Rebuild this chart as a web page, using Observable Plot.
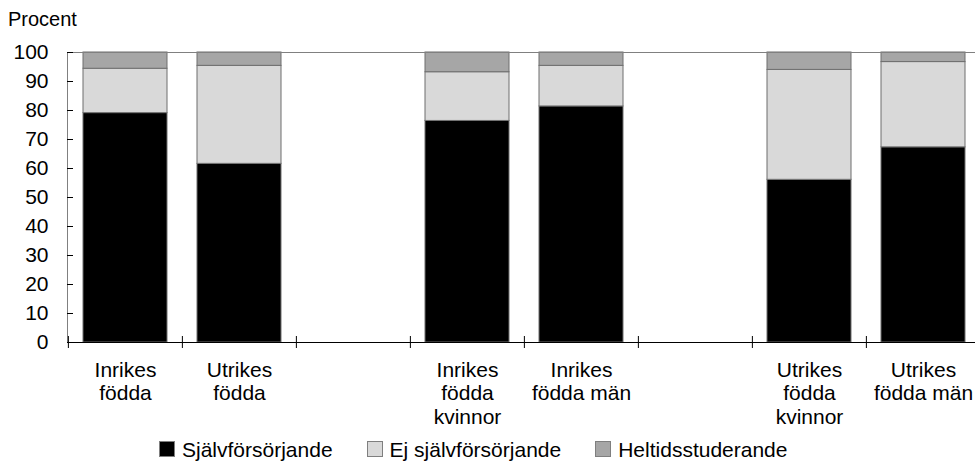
<!DOCTYPE html>
<html>
<head>
<meta charset="utf-8">
<script src="https://cdn.jsdelivr.net/npm/d3@7"></script>
<script src="https://cdn.jsdelivr.net/npm/@observablehq/plot@0.6"></script>
<style>
  html, body { margin: 0; padding: 0; background: #fff; }
  body { font-family: "Liberation Sans", Arial, sans-serif; color: #000; width: 975px; height: 464px; overflow: hidden; }
  #title { font-size: 20px; line-height: 30px; padding: 4px 0 0 8px; height: 30px; }
  #chart svg { display: block; }
  #legend { display: flex; padding: 4px 0 0 159px; font-size: 21px; line-height: 24px; }
  .item { display: flex; align-items: flex-start; margin-right: 34px; }
  .sw { width: 16px; height: 16px; box-sizing: border-box; border: 1px solid #7f7f7f; margin: 3px 7px 0 0; }
</style>
</head>
<body>
<div id="title">Procent</div>
<div id="chart"></div>
<div id="legend"></div>
<script>
// Categories (with two empty slots)
const categories = [
  "Inrikes\nfödda",
  "Utrikes\nfödda",
  " ",
  "Inrikes\nfödda\nkvinnor",
  "Inrikes\nfödda män",
  "  ",
  "Utrikes\nfödda\nkvinnor",
  "Utrikes\nfödda män"
];
const barCategories = [
  "Inrikes\nfödda",
  "Utrikes\nfödda",
  "Inrikes\nfödda\nkvinnor",
  "Inrikes\nfödda män",
  "Utrikes\nfödda\nkvinnor",
  "Utrikes\nfödda män"
];
const series = ["Självförsörjande", "Ej självförsörjande", "Heltidsstuderande"];
const sjalvforsorjande   = [79.1, 61.6, 76.4, 81.4, 56.1, 67.3];
const ejSjalvforsorjande = [15.3, 33.8, 16.8, 14.0, 37.9, 29.4];
const heltidsstuderande  = [5.6, 4.6, 6.8, 4.6, 6.0, 3.3];
const colors = ["#000000", "#d9d9d9", "#a6a6a6"];
const yTicks = [0, 10, 20, 30, 40, 50, 60, 70, 80, 90, 100];

const seriesValues = [sjalvforsorjande, ejSjalvforsorjande, heltidsstuderande];
const data = [];
barCategories.forEach((c, i) => {
  series.forEach((s, j) => data.push({category: c, series: s, value: seriesValues[j][i]}));
});

const xRange = [67, 981];
const halfStep = (xRange[1] - xRange[0]) / categories.length / 2;

const chart = Plot.plot({
  width: 975,
  height: 400,
  marginTop: 18,
  marginBottom: 92,
  marginLeft: 67,
  marginRight: 0,
  style: {fontFamily: "'Liberation Sans', Arial, sans-serif", fontSize: "21px", color: "#000", background: "#fff"},
  x: {domain: categories, range: xRange, paddingInner: 0.265, paddingOuter: 0.1325, align: 0.5},
  y: {domain: [0, 100]},
  color: {domain: series, range: colors},
  marks: [
    Plot.barY(data, {x: "category", y: "value", fill: "series", stroke: "#6f6f6f", strokeWidth: 1}),
    Plot.frame({stroke: "#808080"}),
    Plot.ruleY([0], {stroke: "#000"}),
    Plot.axisY({ticks: yTicks, tickSize: 0, tickPadding: 19, label: null, fontSize: 21}),
    Plot.axisY({ticks: yTicks, tickSize: 6, dx: 6, tickFormat: () => "", label: null, stroke: "#000"}),
    Plot.axisX({tickSize: 0, tickPadding: 18, label: null, fontSize: 21, lineHeight: 1.11}),
    Plot.axisX({tickSize: 12, dy: -6, dx: -halfStep, tickFormat: () => "", label: null, stroke: "#000"})
  ]
});
document.getElementById("chart").appendChild(chart);

const legend = document.getElementById("legend");
series.forEach((s, i) => {
  const item = document.createElement("div");
  item.className = "item";
  const sw = document.createElement("div");
  sw.className = "sw";
  sw.style.background = colors[i];
  const t = document.createElement("span");
  t.textContent = s;
  item.appendChild(sw);
  item.appendChild(t);
  legend.appendChild(item);
});
</script>
</body>
</html>
